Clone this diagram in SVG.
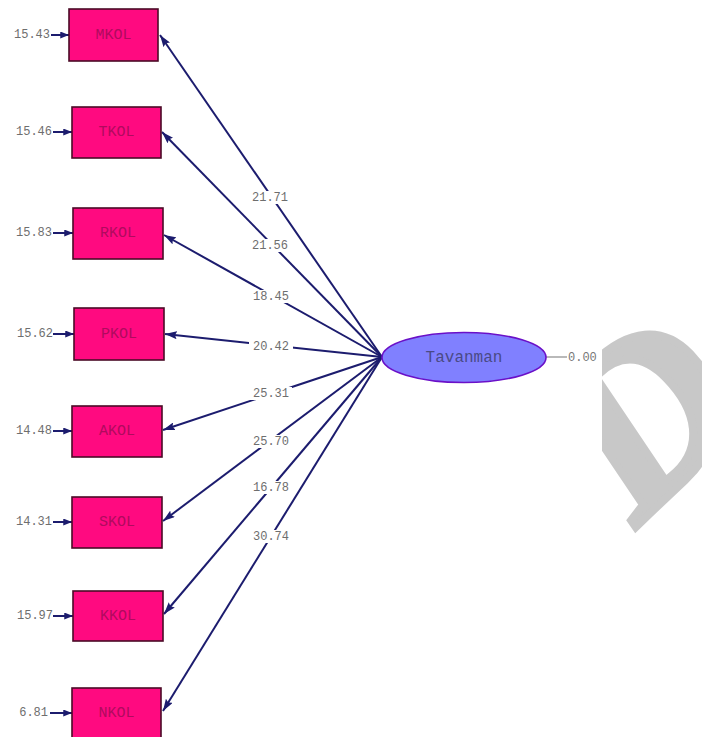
<svg xmlns="http://www.w3.org/2000/svg" width="702" height="737" viewBox="0 0 702 737">
  <style>
    .obs rect { fill: #ff0a80; stroke: #4a0a26; stroke-width: 1.6; }
    .obs text { font-family: "Liberation Mono", "DejaVu Sans Mono", monospace; font-size: 15px; fill: #b00a5e; text-anchor: middle; dominant-baseline: central; }
    .err { font-family: "Liberation Mono", "DejaVu Sans Mono", monospace; font-size: 12px; fill: #6e6e6e; text-anchor: end; dominant-baseline: central; }
    .coef { font-family: "Liberation Mono", "DejaVu Sans Mono", monospace; font-size: 12px; fill: #6e6e6e; text-anchor: middle; dominant-baseline: central; }
    .path { stroke: #1c1c6e; stroke-width: 2; fill: none; }
    .errarrow { stroke: #1c1c6e; stroke-width: 2; fill: none; }
    .bg { fill: #ffffff; }
  </style>
  <defs>
    <marker id="head" viewBox="0 0 12 8" refX="12" refY="4" markerWidth="12" markerHeight="8" markerUnits="userSpaceOnUse" orient="auto">
      <path d="M0,0 L12,4 L0,8 L2,4 Z" fill="#1c1c6e"/>
    </marker>
    <marker id="smallhead" viewBox="0 0 10 8" refX="10" refY="4" markerWidth="10" markerHeight="7" markerUnits="userSpaceOnUse" orient="auto">
      <path d="M0,0 L10,4 L0,8 Z" fill="#1c1c6e"/>
    </marker>
    <clipPath id="markclip">
      <rect x="602" y="300" width="100" height="260"/>
    </clipPath>
  </defs>

  <rect width="702" height="737" fill="#ffffff"/>

  <!-- background watermark letter -->
  <g clip-path="url(#markclip)">
    <text x="0" y="0" transform="translate(637,526) rotate(-44)" font-family="Liberation Serif, serif" font-weight="bold" font-style="italic" font-size="226" fill="#c8c8c8" stroke="#c8c8c8" stroke-width="8" stroke-linejoin="miter">D</text>
  </g>

  <!-- loadings from the latent variable to the indicators -->
  <g id="connectors">
    <line class="path" x1="382" y1="357" x2="160" y2="35" marker-end="url(#head)"/>
    <line class="path" x1="382" y1="357" x2="162" y2="132" marker-end="url(#head)"/>
    <line class="path" x1="382" y1="357" x2="164" y2="235" marker-end="url(#head)"/>
    <line class="path" x1="382" y1="357" x2="165" y2="334" marker-end="url(#head)"/>
    <line class="path" x1="382" y1="357" x2="163" y2="430" marker-end="url(#head)"/>
    <line class="path" x1="382" y1="357" x2="163" y2="521" marker-end="url(#head)"/>
    <line class="path" x1="382" y1="357" x2="164" y2="614" marker-end="url(#head)"/>
    <line class="path" x1="382" y1="357" x2="163" y2="711" marker-end="url(#head)"/>

    <!-- error variance arrows -->
    <line class="errarrow" x1="51" y1="35" x2="69" y2="35" marker-end="url(#smallhead)"/>
    <line class="errarrow" x1="53" y1="132" x2="72" y2="132" marker-end="url(#smallhead)"/>
    <line class="errarrow" x1="53" y1="233" x2="73" y2="233" marker-end="url(#smallhead)"/>
    <line class="errarrow" x1="53" y1="334" x2="74" y2="334" marker-end="url(#smallhead)"/>
    <line class="errarrow" x1="53" y1="431" x2="72" y2="431" marker-end="url(#smallhead)"/>
    <line class="errarrow" x1="53" y1="522" x2="72" y2="522" marker-end="url(#smallhead)"/>
    <line class="errarrow" x1="53" y1="616" x2="73" y2="616" marker-end="url(#smallhead)"/>
    <line class="errarrow" x1="50" y1="713" x2="72" y2="713" marker-end="url(#smallhead)"/>

    <!-- latent error -->
    <line x1="546" y1="357" x2="567" y2="357" stroke="#8a8a8a" stroke-width="1.2"/>

    <!-- coefficient labels -->
    <rect class="bg" x="250" y="191" width="40" height="13"/>
    <text class="coef" x="270" y="197.5">21.71</text>
    <rect class="bg" x="250" y="239" width="40" height="13"/>
    <text class="coef" x="270" y="245.5">21.56</text>
    <rect class="bg" x="250" y="290" width="40" height="13"/>
    <text class="coef" x="271" y="296.5">18.45</text>
    <rect class="bg" x="249" y="341" width="44" height="12"/>
    <text class="coef" x="271" y="347">20.42</text>
    <rect class="bg" x="250" y="387" width="42" height="13"/>
    <text class="coef" x="271" y="393.5">25.31</text>
    <rect class="bg" x="250" y="435" width="40" height="13"/>
    <text class="coef" x="271" y="441.5">25.70</text>
    <rect class="bg" x="250" y="481" width="40" height="13"/>
    <text class="coef" x="271" y="487.5">16.78</text>
    <rect class="bg" x="250" y="530" width="40" height="13"/>
    <text class="coef" x="271" y="536.5">30.74</text>
  </g>

  <!-- error variances -->
  <text class="err" x="50" y="35">15.43</text>
  <text class="err" x="52" y="132">15.46</text>
  <text class="err" x="52" y="233">15.83</text>
  <text class="err" x="53" y="334">15.62</text>
  <text class="err" x="52" y="431">14.48</text>
  <text class="err" x="52" y="522">14.31</text>
  <text class="err" x="53" y="616">15.97</text>
  <text class="err" x="48" y="713">6.81</text>

  <!-- observed indicators -->
  <g id="MKOL" class="obs"><rect x="69" y="9" width="89" height="52"/><text x="113.5" y="35">MKOL</text></g>
  <g id="TKOL" class="obs"><rect x="72" y="107" width="89" height="51"/><text x="116.5" y="132.5">TKOL</text></g>
  <g id="RKOL" class="obs"><rect x="73" y="208" width="90" height="51"/><text x="118" y="233.5">RKOL</text></g>
  <g id="PKOL" class="obs"><rect x="74" y="308" width="90" height="52"/><text x="119" y="334">PKOL</text></g>
  <g id="AKOL" class="obs"><rect x="72" y="406" width="90" height="51"/><text x="117" y="431.5">AKOL</text></g>
  <g id="SKOL" class="obs"><rect x="72" y="497" width="90" height="51"/><text x="117" y="522.5">SKOL</text></g>
  <g id="KKOL" class="obs"><rect x="73" y="591" width="90" height="50"/><text x="118" y="616">KKOL</text></g>
  <g id="NKOL" class="obs"><rect x="72" y="688" width="89" height="50"/><text x="116.5" y="713">NKOL</text></g>

  <!-- latent variable -->
  <g id="Tavanman">
    <ellipse cx="464" cy="357.5" rx="82" ry="25" fill="#8080ff" stroke="#6a10c8" stroke-width="1.6"/>
    <text x="464" y="358" font-family="Liberation Mono, DejaVu Sans Mono, monospace" font-size="16" fill="#4a4a86" text-anchor="middle" dominant-baseline="central">Tavanman</text>
  </g>
  <text x="568" y="357.5" font-family="Liberation Mono, DejaVu Sans Mono, monospace" font-size="12" fill="#777777" dominant-baseline="central">0.00</text>
</svg>
